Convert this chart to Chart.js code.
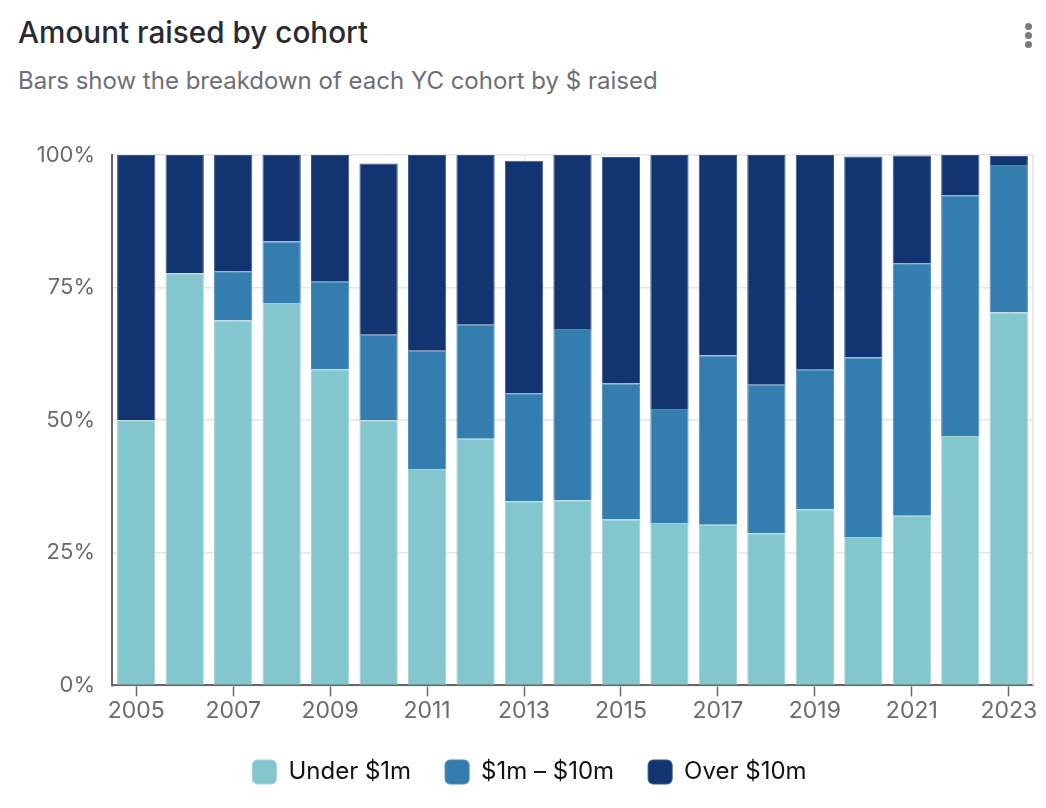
<!DOCTYPE html>
<html>
<head>
<meta charset="utf-8">
<script src="https://cdn.jsdelivr.net/npm/chart.js@4.4.0/dist/chart.umd.min.js"></script>
<style>
  html, body { margin: 0; padding: 0; background: #fff; width: 1046px; height: 808px; overflow: hidden; }
  body { font-family: Inter, "Noto Sans", sans-serif; position: relative; }
  #title { position: absolute; left: 18px; top: 12px; font-size: 29.7px; line-height: 40px; font-weight: 500; color: #2a2a2f; }
  #subtitle { position: absolute; left: 18px; top: 66px; font-size: 24px; line-height: 30px; font-weight: 400; color: #6e6e76; }
  .dot { position: absolute; left: 1025px; width: 7px; height: 7px; border-radius: 50%; background: #7a7a80; }
  #wrap { position: absolute; left: 0; top: 120px; width: 1046px; height: 688px; }
</style>
</head>
<body>
<div id="title">Amount raised by cohort</div>
<div id="subtitle">Bars show the breakdown of each YC cohort by $ raised</div>
<div class="dot" style="top:23px"></div>
<div class="dot" style="top:32px"></div>
<div class="dot" style="top:41px"></div>
<div id="wrap"><canvas id="c" width="1046" height="688"></canvas></div>
<script>
const categories = ["2005","2006","2007","2008","2009","2010","2011","2012","2013","2014","2015","2016","2017","2018","2019","2020","2021","2022","2023"];
const under1m  = [50.0, 77.7, 68.8, 72.1, 59.6, 50.0, 40.8, 46.5, 34.7, 34.9, 31.3, 30.6, 30.3, 28.7, 33.2, 28.0, 32.0, 47.0, 70.3];
const m1to10   = [0.0,  0.0,  9.3,  11.6, 16.5, 16.1, 22.3, 21.5, 20.4, 32.3, 25.6, 21.5, 31.9, 28.0, 26.3, 33.8, 47.6, 45.4, 27.8];
const over10m  = [50.0, 22.3, 21.9, 16.3, 23.9, 32.3, 36.9, 32.0, 43.8, 32.8, 42.7, 47.9, 37.8, 43.3, 40.5, 37.9, 20.3, 7.6,  1.7];
const yTicks = [0, 25, 50, 75, 100];

const rightEdge = {
  id: 'rightEdge',
  beforeDatasetsDraw(chart) {
    const a = chart.chartArea, ctx = chart.ctx;
    ctx.save();
    ctx.strokeStyle = '#e3e3e3';
    ctx.lineWidth = 1.5;
    ctx.beginPath();
    ctx.moveTo(a.right, a.top);
    ctx.lineTo(a.right, a.bottom);
    ctx.stroke();
    ctx.restore();
  }
};

new Chart(document.getElementById('c'), {
  type: 'bar',
  data: {
    labels: categories,
    datasets: [
      { label: 'Under $1m', data: under1m, backgroundColor: '#83c6cd', borderColor: '#9fd3d8', borderWidth: 1 },
      { label: '$1m \u2013 $10m', data: m1to10, backgroundColor: '#347daf', borderColor: '#4a8cbb', borderWidth: 1 },
      { label: 'Over $10m', data: over10m, backgroundColor: '#123572', borderColor: '#3a568a', borderWidth: 1 }
    ]
  },
  options: {
    responsive: false,
    animation: false,
    devicePixelRatio: 1,
    layout: { padding: { left: 26, right: 13, top: 35, bottom: 14 } },
    datasets: { bar: { categoryPercentage: 1.0, barPercentage: 0.79 } },
    scales: {
      x: {
        stacked: true,
        offset: true,
        grid: { offset: false, color: '#e6e6e6', tickColor: '#6b6b6b', tickLength: 11, tickWidth: 1.5 },
        border: { color: '#666', width: 2 },
        ticks: {
          autoSkip: false, maxRotation: 0, color: '#6b6b6b', padding: 1,
          font: { family: 'Inter', size: 23 },
          callback: function(v, i) { return i % 2 === 0 ? categories[i] : null; }
        }
      },
      y: {
        stacked: true, min: 0, max: 100,
        afterFit: function(s) { s.width = 86; },
        afterBuildTicks: function(s) { s.ticks = yTicks.map(v => ({ value: v })); },
        grid: { color: '#e6e6e6', drawTicks: false, lineWidth: 1.5 },
        border: { color: '#666', width: 2 },
        ticks: {
          color: '#6b6b6b', padding: 17,
          font: { family: 'Inter', size: 22 },
          callback: v => v + '%'
        }
      }
    },
    plugins: {
      legend: {
        position: 'bottom',
        labels: {
          boxWidth: 24, boxHeight: 24, useBorderRadius: true, borderRadius: 5,
          color: '#111', padding: 34,
          font: { family: 'Inter', size: 24 }
        }
      },
      tooltip: { enabled: false }
    }
  },
  plugins: [rightEdge]
});
</script>
</body>
</html>
